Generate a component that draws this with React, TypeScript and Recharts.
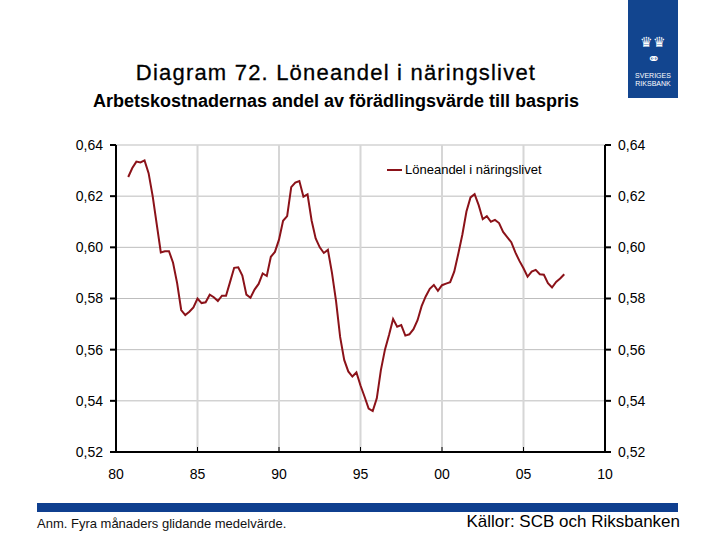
import React from "react";
import {
  LineChart,
  Line,
  XAxis,
  YAxis,
  CartesianGrid,
  Legend,
} from "recharts";

// Kvartalsdata, första punkten 1980 kv4 (80.75 på x-axeln)
const firstQuarter = 80.75;
const loneandel = [
  0.6275, 0.631, 0.6335, 0.6332, 0.634, 0.629, 0.62, 0.609,
  0.598, 0.5985, 0.5985, 0.594, 0.586, 0.5755, 0.5735, 0.5748,
  0.5765, 0.58, 0.5782, 0.5785, 0.5815, 0.5805, 0.579, 0.5811,
  0.5811, 0.5865, 0.592, 0.5922, 0.589, 0.5815, 0.5803, 0.5835,
  0.5857, 0.5898, 0.5888, 0.5963, 0.5982, 0.603, 0.6104, 0.6122,
  0.6235, 0.6253, 0.6259, 0.6198, 0.6207, 0.6105, 0.6035, 0.6,
  0.5978, 0.599, 0.59, 0.579, 0.565, 0.556, 0.5515, 0.5495,
  0.5511, 0.546, 0.5416, 0.537, 0.536, 0.541, 0.552, 0.56,
  0.5657, 0.572, 0.569, 0.5696, 0.5655, 0.566, 0.568, 0.5715,
  0.577, 0.5808, 0.5838, 0.5853, 0.583, 0.5852, 0.5858, 0.5864,
  0.5905, 0.5975, 0.605, 0.614, 0.6195, 0.6208, 0.6165, 0.611,
  0.6122, 0.61, 0.6107, 0.6095, 0.606, 0.604, 0.602, 0.598,
  0.5947, 0.5918, 0.5885, 0.5905, 0.5912, 0.5895, 0.5893, 0.586,
  0.5843, 0.5865, 0.5878, 0.5895,
];

const xTicks = [80, 85, 90, 95, 100, 105, 110];
const yTicks = [0.52, 0.54, 0.56, 0.58, 0.6, 0.62, 0.64];
const seriesName = "Löneandel i näringslivet";

const data = loneandel.map((v, i) => ({ x: firstQuarter + i * 0.25, v }));

const fmtY = (v: number) => v.toFixed(2).replace(".", ",");
const fmtX = (v: number) => String(v % 100).padStart(2, "0");

const font = "'Liberation Sans', Arial, sans-serif";
const lineColor = "#8B1219";
const blue = "#0F3F8F";

function XTick(props: any) {
  const { x, y, payload } = props;
  return (
    <g>
      <line x1={x} x2={x} y1={y - 5} y2={y} stroke="#000" strokeWidth={1} />
      <text x={x} y={y + 27} textAnchor="middle" fontSize={14} fill="#000">
        {fmtX(payload.value)}
      </text>
    </g>
  );
}

function LegendContent() {
  return (
    <div style={{ display: "flex", alignItems: "center", fontFamily: font, fontSize: 13, color: "#000" }}>
      <span style={{ display: "inline-block", width: 15, height: 2, background: lineColor, marginRight: 3 }} />
      <span>{seriesName}</span>
    </div>
  );
}

export default function App() {
  return (
    <div style={{ position: "absolute", left: 0, top: 0, width: 720, height: 540, background: "#fff", fontFamily: font }}>
      {/* logga */}
      <div
        style={{
          position: "absolute",
          left: 628,
          top: 0,
          width: 50,
          height: 98,
          background: "#12458F",
          color: "#fff",
          textAlign: "center",
          fontSize: 7,
          lineHeight: "8px",
        }}
      >
        <div style={{ marginTop: 34, fontSize: 14, lineHeight: "16px" }}>♛♛</div>
        <div style={{ fontSize: 16, lineHeight: "18px" }}>⚭</div>
        <div style={{ marginTop: 4 }}>SVERIGES</div>
        <div>RIKSBANK</div>
      </div>

      <div
        style={{
          position: "absolute",
          left: 0,
          top: 59,
          width: 672,
          textAlign: "center",
          fontSize: 22,
          letterSpacing: 1.2,
          lineHeight: "28px",
          color: "#000",
          WebkitTextStroke: "0.3px #000",
        }}
      >
        Diagram 72. Löneandel i näringslivet
      </div>
      <div style={{ position: "absolute", left: 0, top: 90, width: 672, textAlign: "center", fontSize: 18, fontWeight: "bold", lineHeight: "22px", color: "#000" }}>
        Arbetskostnadernas andel av förädlingsvärde till baspris
      </div>

      <div style={{ position: "absolute", left: 0, top: 0 }}>
        <LineChart
          width={720}
          height={540}
          data={data}
          margin={{ top: 145, right: 0, bottom: 58, left: 0 }}
          style={{ fontFamily: font }}
        >
          <CartesianGrid horizontal={true} vertical={false} stroke="#BDBDBD" strokeWidth={1} />
          <CartesianGrid horizontal={false} vertical={true} stroke="#D6D6D6" strokeWidth={2} />
          <XAxis
            dataKey="x"
            type="number"
            domain={[80, 110]}
            ticks={xTicks}
            interval={0}
            height={30}
            axisLine={{ stroke: "#000", strokeWidth: 2 }}
            tickLine={false}
            tickSize={0}
            tickMargin={0}
            tick={<XTick />}
            allowDataOverflow
          />
          <YAxis
            domain={[0.52, 0.64]}
            ticks={yTicks}
            interval={0}
            width={116}
            axisLine={{ stroke: "#000", strokeWidth: 2 }}
            tickLine={{ stroke: "#000", strokeWidth: 2 }}
            tickSize={6}
            tickMargin={7}
            tickFormatter={fmtY}
            tick={{ fontSize: 14, fill: "#000" }}
            allowDataOverflow
          />
          <YAxis
            yAxisId="right"
            orientation="right"
            domain={[0.52, 0.64]}
            ticks={yTicks}
            interval={0}
            width={115}
            axisLine={{ stroke: "#000", strokeWidth: 2 }}
            tickLine={{ stroke: "#000", strokeWidth: 2 }}
            tickSize={6}
            tickMargin={7}
            tickFormatter={fmtY}
            tick={{ fontSize: 14, fill: "#000", textAnchor: "start" }}
            allowDataOverflow
          />
          <Legend
            layout="vertical"
            align="center"
            verticalAlign="middle"
            content={<LegendContent />}
            wrapperStyle={{ left: 387, top: 162, width: "auto" }}
          />
          <Line
            type="linear"
            dataKey="v"
            name={seriesName}
            stroke={lineColor}
            strokeWidth={2}
            dot={false}
            activeDot={false}
            isAnimationActive={false}
          />
        </LineChart>
      </div>

      <div style={{ position: "absolute", left: 37, top: 503, width: 641, height: 9, background: blue }} />
      <div style={{ position: "absolute", left: 37, top: 516, fontSize: 13, lineHeight: "16px", color: "#111" }}>
        Anm. Fyra månaders glidande medelvärde.
      </div>
      <div style={{ position: "absolute", right: 40, top: 512, fontSize: 17, lineHeight: "20px", color: "#000" }}>
        Källor: SCB och Riksbanken
      </div>
    </div>
  );
}
